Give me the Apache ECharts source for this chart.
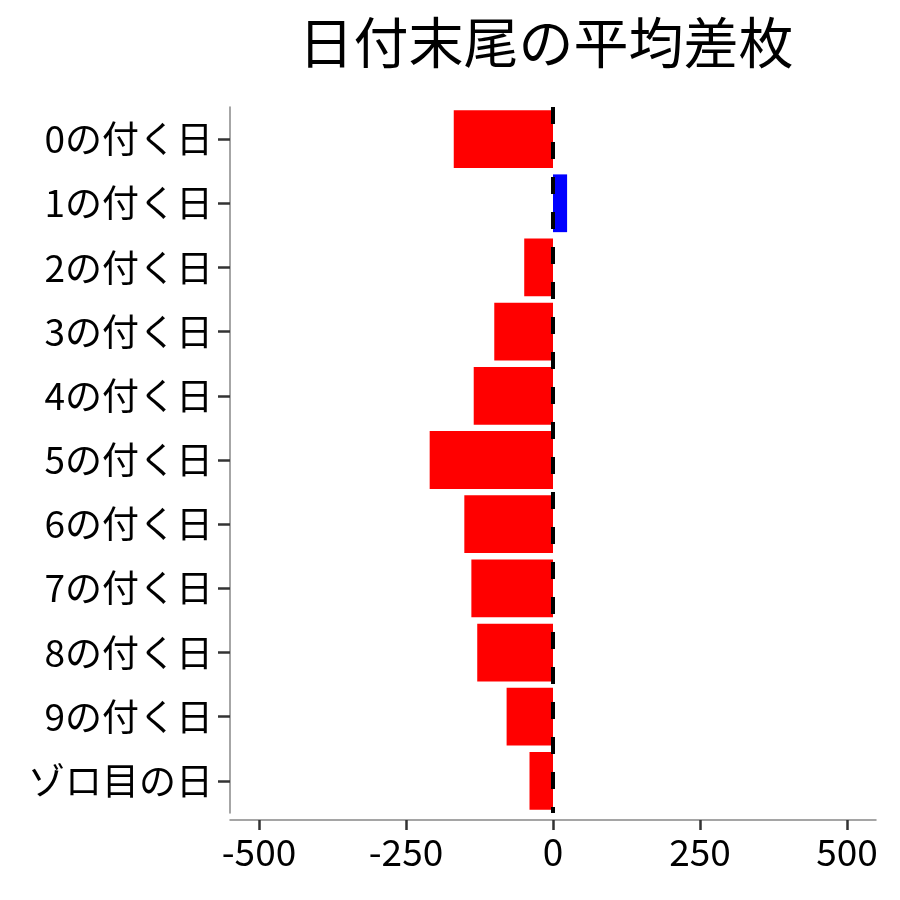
<!DOCTYPE html>
<html>
<head>
<meta charset="utf-8">
<script src="https://cdn.jsdelivr.net/npm/echarts@6/dist/echarts.min.js"></script>
<style>
    html, body { margin: 0; padding: 0; background: #fff; }
    #chart { width: 900px; height: 900px; }
</style>
</head>
<body>
<div id="chart"></div>
<script>
// categories (top to bottom) and mean difference values
const dayCategories = ['0の付く日', '1の付く日', '2の付く日', '3の付く日', '4の付く日',
    '5の付く日', '6の付く日', '7の付く日', '8の付く日', '9の付く日', 'ゾロ目の日'];
const meanDiff = [-169, 24, -49, -100, -135, -210, -151, -139, -129, -79, -40];
const xTickMin = -500;
const xTickMax = 500;
const xTickStep = 250;

const fontFamily = '"Noto Sans CJK JP", "Noto Sans", sans-serif';
var diffChart = echarts.init(document.getElementById('chart'));

let barData = meanDiff.map((v) => {
    return {
        value: v,
        itemStyle: {
            color: v >= 0 ? '#0000ff' : '#ff0000'
        }
    };
});

let option = {
    backgroundColor: '#ffffff',
    animation: false,
    title: {
        text: '日付末尾の平均差枚',
        left: 541,
        textAlign: 'center',
        top: 10,
        textStyle: {
            fontFamily: fontFamily,
            fontSize: 55,
            fontWeight: 'normal',
            color: '#000'
        }
    },
    grid: [
        // plotting panel, data range -550..550
        {left: 230, right: 24, top: 107, bottom: 87},
        // tick panel, -500..500 lines up with the panel above
        {left: 259, right: 53, top: 107, bottom: 87}
    ],
    xAxis: [
        {
            type: 'value',
            gridIndex: 0,
            min: -550,
            max: 550,
            offset: 7,
            splitLine: {show: false},
            axisLine: {show: true, onZero: false, lineStyle: {color: '#888', width: 1.5}},
            axisTick: {show: false},
            axisLabel: {show: false}
        },
        {
            type: 'value',
            gridIndex: 1,
            min: xTickMin,
            max: xTickMax,
            interval: xTickStep,
            offset: 7,
            splitLine: {show: false},
            axisLine: {show: false, onZero: false},
            axisTick: {
                show: true,
                length: 10,
                lineStyle: {color: '#333', width: 2.5}
            },
            axisLabel: {
                margin: 13,
                fontFamily: fontFamily,
                fontSize: 37,
                color: '#000'
            }
        }
    ],
    yAxis: [
        {
            type: 'category',
            gridIndex: 0,
            data: dayCategories,
            inverse: true,
            axisLine: {show: true, onZero: false, lineStyle: {color: '#888', width: 1.5}},
            axisTick: {
                show: true,
                alignWithLabel: true,
                length: 12,
                lineStyle: {color: '#333', width: 2.5}
            },
            axisLabel: {
                margin: 17,
                fontFamily: fontFamily,
                fontSize: 37,
                color: '#000'
            },
            splitLine: {show: false}
        },
        {
            type: 'value',
            gridIndex: 1,
            show: false
        }
    ],
    series: [
        {
            type: 'bar',
            xAxisIndex: 0,
            yAxisIndex: 0,
            data: barData,
            barCategoryGap: '10%',
            markLine: {
                silent: true,
                z: 10,
                symbol: ['none', 'none'],
                label: {show: false},
                lineStyle: {color: '#000', width: 4, type: [17, 18]},
                data: [{xAxis: 0}]
            }
        }
    ]
};

diffChart.setOption(option);
</script>
</body>
</html>
